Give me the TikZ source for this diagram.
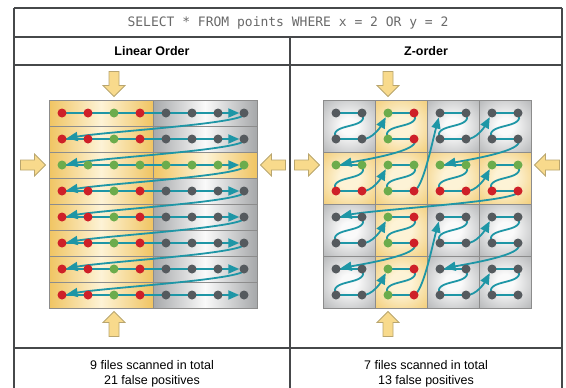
\documentclass[tikz,border=0pt]{standalone}
\usepackage{fontspec}
\setmainfont{Liberation Sans}
\newfontfamily\sqlfont{DejaVu Sans Mono}
\usetikzlibrary{arrows.meta,calc}
\definecolor{tealc}{RGB}{30,150,166}
\definecolor{redc}{RGB}{206,32,40}
\definecolor{greenc}{RGB}{108,172,76}
\definecolor{grayc}{RGB}{85,90,94}
\definecolor{yin}{RGB}{253,243,214}
\definecolor{yout}{RGB}{240,196,98}
\definecolor{gin}{RGB}{250,250,250}
\definecolor{gout}{RGB}{166,168,170}
\definecolor{cellline}{RGB}{140,140,140}
\definecolor{tableline}{RGB}{70,72,74}
\definecolor{bafill}{RGB}{248,218,140}
\definecolor{badraw}{RGB}{185,165,110}
\definecolor{sqlgray}{RGB}{105,105,105}
\pgfdeclareradialshading{yrad}{\pgfpoint{0bp}{0bp}}{color(0bp)=(yin); color(10bp)=(yin); color(42bp)=(yout); color(50bp)=(yout)}
\pgfdeclareradialshading{grad}{\pgfpoint{0bp}{0bp}}{color(0bp)=(gin); color(8bp)=(gin); color(42bp)=(gout); color(50bp)=(gout)}
\pgfdeclarelayer{back}
\pgfdeclarelayer{mid}
\pgfsetlayers{back,mid,main}
\tikzset{
  dot/.style={circle, inner sep=0pt, minimum size=9pt},
  tealarrow/.style={draw=tealc, line width=1.8pt, -{Triangle[length=11pt,width=9pt]}},
  tealline/.style={draw=tealc, line width=1.8pt},
  tbl/.style={draw=tableline, line width=1.2pt},
  ycellh/.style={draw=cellline, line width=0.7pt, left color=yout, right color=yout, middle color=yin},
  gcellh/.style={draw=cellline, line width=0.7pt, left color=gout, right color=gout, middle color=gin},
  ycell/.style={draw=cellline, line width=0.7pt, shading=yrad},
  gcell/.style={draw=cellline, line width=0.7pt, shading=grad},
  txt/.style={font=\fontsize{12.5}{15}\selectfont, text=black, inner sep=0pt},
  bigarrow/.pic={\draw[line width=0.8pt, draw=badraw, fill=bafill, line join=miter]
     (0,0) -- (-11,-11) -- (-5,-11) -- (-5,-25) -- (5,-25) -- (5,-11) -- (11,-11) -- cycle;}
}
\begin{document}
\begin{tikzpicture}[x=1pt,y=-1pt]
\useasboundingbox (0,0) rectangle (566,388);

% ---------- table ----------
\draw[tbl] (14,8) -- (562,8);
\draw[tbl] (14,37) -- (562,37);
\draw[tbl] (14,65) -- (562,65);
\draw[tbl] (14,348) -- (562,348);
\draw[tbl] (14,8) -- (14,400);
\draw[tbl] (562,8) -- (562,400);
\draw[tbl] (290,37) -- (290,400);

\node[font=\sqlfont\fontsize{13}{15}\selectfont, text=sqlgray, inner sep=0pt] (title) at (288,22.5) {SELECT * FROM points WHERE x = 2 OR y = 2};
\node[txt, font=\bfseries\fontsize{12.5}{15}\selectfont] (h1) at (152,51) {Linear Order};
\node[txt, font=\bfseries\fontsize{12.5}{15}\selectfont] (h2) at (426,51) {Z-order};
\node[txt, align=center] (f1) at (152,373.5) {9 files scanned in total\\21 false positives};
\node[txt, align=center] (f2) at (426,373.5) {7 files scanned in total\\13 false positives};

% ---------- linear order cells ----------
\begin{pgfonlayer}{back}
\foreach \r in {0,...,7}{
  \path[ycellh] (49,{100+26*\r}) rectangle (153,{126+26*\r});
  \ifnum\r=2
    \path[ycellh] (153,{100+26*\r}) rectangle (257,{126+26*\r});
  \else
    \path[gcellh] (153,{100+26*\r}) rectangle (257,{126+26*\r});
  \fi
}
% ---------- z-order cells ----------
\foreach \bx in {0,...,3}{
  \foreach \by in {0,...,3}{
    \def\cs{gcell}
    \ifnum\bx=1 \def\cs{ycell}\fi
    \ifnum\by=1 \def\cs{ycell}\fi
    \path[\cs] ({323+52*\bx},{100+52*\by}) rectangle ({375+52*\bx},{152+52*\by});
  }
}
\end{pgfonlayer}

% ---------- dots ----------
\foreach \r in {0,...,7}{
  \foreach \c in {0,...,7}{
    \def\dc{grayc}
    \ifnum\c<4 \def\dc{redc}\fi
    \ifnum\r=2 \def\dc{greenc}\fi
    \ifnum\c=2 \def\dc{greenc}\fi
    \node[dot, fill=\dc] (L-\r-\c) at ({62+26*\c},{113+26*\r}) {};
  }
}
\foreach \x in {0,...,7}{
  \foreach \y in {0,...,7}{
    \def\dc{grayc}
    \ifnum\x=3 \def\dc{redc}\fi
    \ifnum\y=3 \def\dc{redc}\fi
    \ifnum\x=2 \def\dc{greenc}\fi
    \ifnum\y=2 \def\dc{greenc}\fi
    \node[dot, fill=\dc] (Z-\x-\y) at ({336+26*\x},{113+26*\y}) {};
  }
}

% ---------- teal paths ----------
\begin{pgfonlayer}{mid}
\foreach \r in {0,...,7}{
  \draw[tealarrow] (L-\r-0.center) -- (L-\r-7);
}
\foreach \r [evaluate=\r as \n using int(\r+1)] in {0,...,6}{
  \draw[tealarrow] (L-\r-7.center) .. controls ($(L-\r-7)+(10,10)$) and ($(L-\n-0)+(50,-8)$) .. (L-\n-0);
}
% Z shapes inside blocks
\foreach \bx in {0,...,3}{
  \foreach \by in {0,...,3}{
    \pgfmathtruncatemacro\xa{2*\bx}
    \pgfmathtruncatemacro\xb{2*\bx+1}
    \pgfmathtruncatemacro\ya{2*\by}
    \pgfmathtruncatemacro\yb{2*\by+1}
    \draw[tealline] (Z-\xa-\ya.center) -- (Z-\xb-\ya.center)
       .. controls ($(Z-\xb-\ya)+(9,17)$) and ($(Z-\xa-\yb)+(-9,-17)$) .. (Z-\xa-\yb.center)
       -- (Z-\xb-\yb.center);
  }
}
% short hops
\foreach \a/\b/\c/\d in {1/1/2/0, 1/3/2/2, 5/1/6/0, 5/3/6/2, 1/5/2/4, 1/7/2/6, 5/5/6/4, 5/7/6/6}{
  \draw[tealarrow] (Z-\a-\b.center) .. controls ($(Z-\a-\b)+(10,1)$) and ($(Z-\c-\d)+(-7,13)$) .. (Z-\c-\d);
}
% long left hops
\foreach \a/\b/\c/\d in {3/1/0/2, 7/1/4/2, 7/3/0/4, 3/5/0/6, 7/5/4/6}{
  \draw[tealarrow] (Z-\a-\b.center) .. controls ($(Z-\a-\b)+(8,10)$) and ($(Z-\c-\d)+(45,-8)$) .. (Z-\c-\d);
}
% long up hops
\foreach \a/\b/\c/\d in {3/3/4/0, 3/7/4/4}{
  \draw[tealarrow] (Z-\a-\b.center) .. controls ($(Z-\a-\b)+(9,-3)$) and ($(Z-\c-\d)+(-8,30)$) .. (Z-\c-\d);
}
\end{pgfonlayer}

% ---------- big yellow arrows ----------
\pic at (114,96.5) {bigarrow};
\pic[rotate=180] at (114,311.5) {bigarrow};
\pic[rotate=90] at (45.5,165) {bigarrow};
\pic[rotate=-90] at (260.5,165) {bigarrow};
\pic at (388,96.5) {bigarrow};
\pic[rotate=180] at (388,311.5) {bigarrow};
\pic[rotate=90] at (319.5,165) {bigarrow};
\pic[rotate=-90] at (534.5,165) {bigarrow};
\end{tikzpicture}
\end{document}
